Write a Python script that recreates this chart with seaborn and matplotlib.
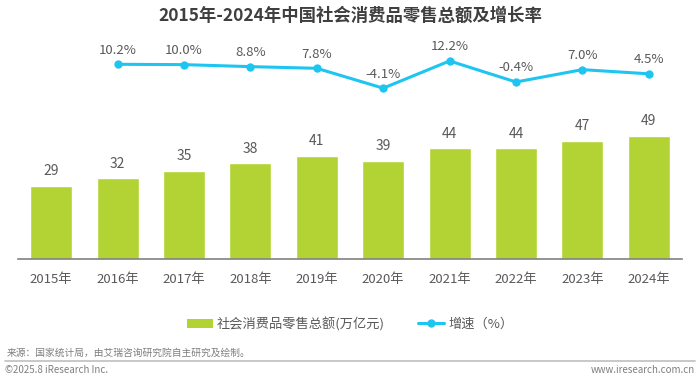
import matplotlib
matplotlib.use("Agg")
import matplotlib.pyplot as plt
import seaborn as sns
import numpy as np
import pandas as pd
from matplotlib.patches import Patch
from matplotlib.lines import Line2D

years = ["2015年", "2016年", "2017年", "2018年", "2019年", "2020年", "2021年", "2022年", "2023年", "2024年"]
sales = [29, 32, 35, 38, 41, 39, 44, 44, 47, 49]
growth = [np.nan, 10.2, 10.0, 8.8, 7.8, -4.1, 12.2, -0.4, 7.0, 4.5]
growth_labels = ["", "10.2%", "10.0%", "8.8%", "7.8%", "-4.1%", "12.2%", "-0.4%", "7.0%", "4.5%"]

title = "2015年-2024年中国社会消费品零售总额及增长率"
bar_name = "社会消费品零售总额(万亿元)"
line_name = "增速（%）"
source = "来源：国家统计局，由艾瑞咨询研究院自主研究及绘制。"
copyright_text = "©2025.8 iResearch Inc."
site = "www.iresearch.com.cn"

sns.set_theme(style="white")
plt.rcParams['font.family'] = ['Noto Sans CJK SC', 'DejaVu Sans']

BAR = "#B3D334"
LINE = "#1EC5F0"
TXT = "#595959"

W, H = 700, 379
fig = plt.figure(figsize=(7, 3.79), dpi=100)
ax = fig.add_axes([18 / W, (H - 259) / H, (682 - 18) / W, (259 - 40) / H])

df = pd.DataFrame({"year": years, "sales": sales, "growth": growth})
sns.barplot(data=df, x="year", y="sales", color=BAR, width=0.63, ax=ax, saturation=1)
ax.set_xlim(-0.5, 9.5)
ax.set_ylim(0, 219 / 2.52)
for i, v in enumerate(sales):
    ax.text(i, v + 3.0, f"{v}", ha="center", va="bottom", fontsize=10, color=TXT)

ax.set_xlabel("")
ax.set_ylabel("")
ax.set_yticks([])
ax.tick_params(axis="x", length=0, labelsize=9.5, colors=TXT, pad=10)
for s in ["top", "right", "left"]:
    ax.spines[s].set_visible(False)
ax.spines["bottom"].set_color("#808080")
ax.spines["bottom"].set_linewidth(1.2)

ax2 = ax.twinx()
xpos = np.arange(len(years))
sns.lineplot(x=xpos, y=growth, color=LINE, linewidth=2.2, marker="o", markersize=6,
             markeredgewidth=0, ax=ax2)
ax2.set_ylim(-106.4, 24.75)
ax2.set_xlim(-0.5, 9.5)
ax2.set_yticks([])
for s in ["top", "right", "left", "bottom"]:
    ax2.spines[s].set_visible(False)
for i, (g, lab) in enumerate(zip(growth, growth_labels)):
    if lab:
        ax2.text(i, g + 4.5, lab, ha="center", va="bottom", fontsize=9.5, color=TXT)

fig.text(0.5, 1 - 16 / H, title, ha="center", va="center", fontsize=12.5,
         fontweight="bold", color="#3F3F3F")

handles = [Patch(facecolor=BAR, edgecolor="none"),
           Line2D([0], [0], color=LINE, linewidth=2.2, marker="o", markersize=5)]
fig.legend(handles, [bar_name, line_name], loc="center", bbox_to_anchor=(0.5, 1 - 324 / H),
           ncol=2, frameon=False, fontsize=9.5, handlelength=2.0, handleheight=0.7,
           columnspacing=2.5, handletextpad=0.3, labelcolor=TXT)

fig.text(7 / W, 1 - 353 / H, source, ha="left", va="center", fontsize=7, color="#7F7F7F")
fig.add_artist(Line2D([5 / W, 695 / W], [1 - 361 / H, 1 - 361 / H], color="#BFBFBF", linewidth=1.2))
fig.text(5 / W, 1 - 370 / H, copyright_text, ha="left", va="center", fontsize=7, color="#7F7F7F")
fig.text(695 / W, 1 - 370 / H, site, ha="right", va="center", fontsize=7, color="#7F7F7F")

fig.savefig("out.png", dpi=100)
